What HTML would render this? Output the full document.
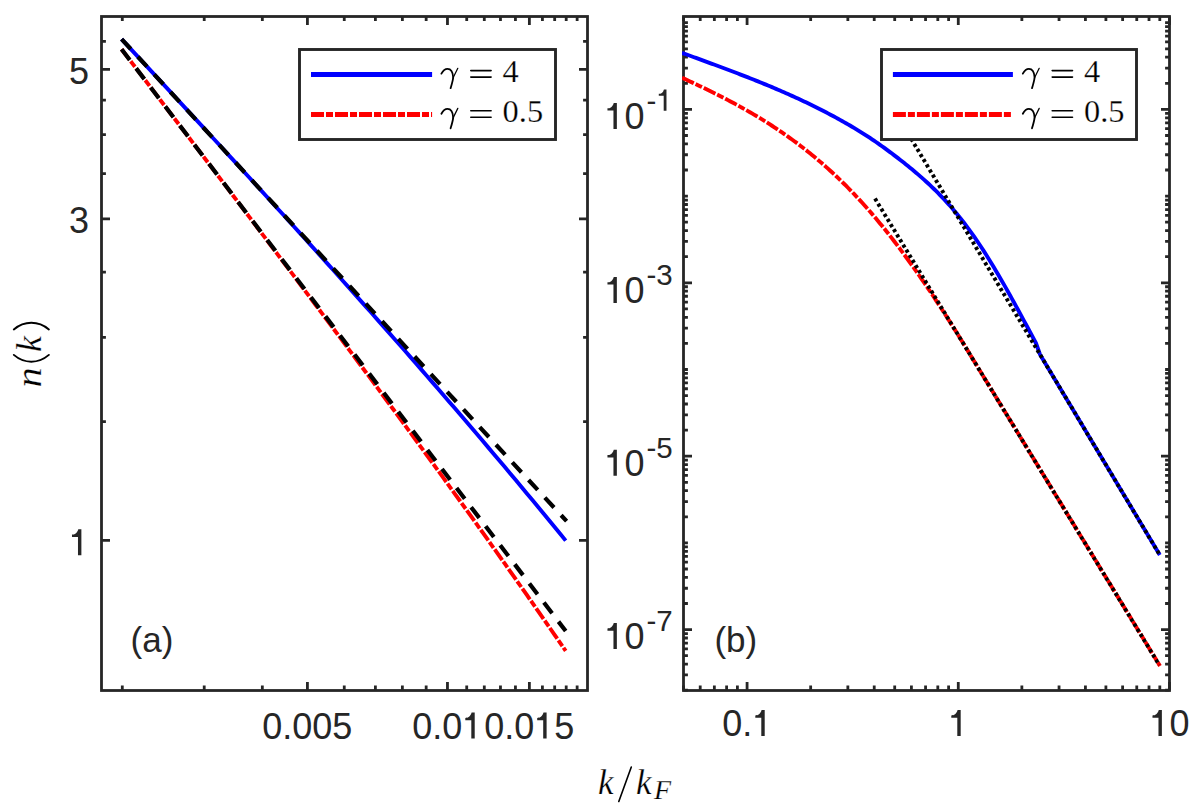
<!DOCTYPE html><html><head><meta charset="utf-8"><style>html,body{margin:0;padding:0;background:#fff;width:1197px;height:811px;overflow:hidden}svg{display:block}.t{font-family:"Liberation Sans",sans-serif;font-size:36px;fill:#262626}.m{font-family:"Liberation Serif",serif;fill:#000;stroke:#fff;stroke-width:0.25px}</style></head><body>
<svg width="1197" height="811" viewBox="0 0 1197 811">
<rect width="1197" height="811" fill="#fff"/>
<defs><clipPath id="cl"><rect x="101.5" y="16.5" width="486" height="674"/></clipPath><clipPath id="cr"><rect x="682" y="15" width="489" height="677"/></clipPath></defs>
<path d="M307.42 690.5V682M307.42 16.5V25M447.46 690.5V682M447.46 16.5V25M529.38 690.5V682M529.38 16.5V25M122.3 690.5V685.4M122.3 16.5V20.9M204.22 690.5V685.4M204.22 16.5V20.9M262.34 690.5V685.4M262.34 16.5V20.9M344.26 690.5V685.4M344.26 16.5V20.9M375.4 690.5V685.4M375.4 16.5V20.9M402.38 690.5V685.4M402.38 16.5V20.9M426.17 690.5V685.4M426.17 16.5V20.9M466.72 690.5V685.4M466.72 16.5V20.9M484.3 690.5V685.4M484.3 16.5V20.9M500.47 690.5V685.4M500.47 16.5V20.9M515.44 690.5V685.4M515.44 16.5V20.9M542.42 690.5V685.4M542.42 16.5V20.9M554.67 690.5V685.4M554.67 16.5V20.9M566.21 690.5V685.4M566.21 16.5V20.9M577.14 690.5V685.4M577.14 16.5V20.9M101.5 540.3H110M587.5 540.3H579M101.5 218.79H110M587.5 218.79H579M101.5 69.3H110M587.5 69.3H579M101.5 421.64H105.9M587.5 421.64H583.1M101.5 337.45H105.9M587.5 337.45H583.1M101.5 272.15H105.9M587.5 272.15H583.1M101.5 173.68H105.9M587.5 173.68H583.1M101.5 134.6H105.9M587.5 134.6H583.1M101.5 100.13H105.9M587.5 100.13H583.1M101.5 41.41H105.9M587.5 41.41H583.1" stroke="#262626" stroke-width="2.8" fill="none"/>
<rect x="101.5" y="16.5" width="486" height="674" fill="none" stroke="#262626" stroke-width="2.8"/>
<g clip-path="url(#cl)" fill="none" stroke-linejoin="round">
<path d="M121.6 39.1 L127.15 45.1 L132.7 51.09 L138.25 57.09 L143.81 63.09 L149.36 69.09 L154.91 75.09 L160.46 81.09 L166.01 87.09 L171.56 93.1 L177.11 99.11 L182.66 105.12 L188.22 111.13 L193.77 117.15 L199.32 123.17 L204.87 129.19 L210.42 135.22 L215.97 141.25 L221.52 147.29 L227.07 153.33 L232.62 159.37 L238.18 165.42 L243.73 171.48 L249.28 177.54 L254.83 183.61 L260.38 189.68 L265.93 195.76 L271.48 201.85 L277.03 207.94 L282.59 214.04 L288.14 220.15 L293.69 226.26 L299.24 232.39 L304.79 238.52 L310.34 244.66 L315.89 250.81 L321.44 256.96 L327 263.13 L332.55 269.31 L338.1 275.49 L343.65 281.69 L349.2 287.9 L354.75 294.11 L360.3 300.34 L365.86 306.58 L371.41 312.83 L376.96 319.09 L382.51 325.36 L388.06 331.65 L393.61 337.94 L399.16 344.25 L404.71 350.58 L410.26 356.91 L415.82 363.26 L421.37 369.62 L426.92 376 L432.47 382.39 L438.02 388.79 L443.57 395.21 L449.12 401.65 L454.67 408.1 L460.23 414.56 L465.78 421.04 L471.33 427.54 L476.88 434.05 L482.43 440.58 L487.98 447.12 L493.53 453.68 L499.09 460.26 L504.64 466.86 L510.19 473.47 L515.74 480.1 L521.29 486.75 L526.84 493.42 L532.39 500.11 L537.94 506.81 L543.5 513.54 L549.05 520.28 L554.6 527.05 L560.15 533.83 L565.7 540.64" stroke="#0000ff" stroke-width="3.9"/>
<path d="M121.6 49.3 L127.15 56.57 L132.7 63.85 L138.25 71.12 L143.81 78.39 L149.36 85.67 L154.91 92.94 L160.46 100.22 L166.01 107.49 L171.56 114.77 L177.11 122.05 L182.66 129.33 L188.22 136.62 L193.77 143.9 L199.32 151.19 L204.87 158.48 L210.42 165.77 L215.97 173.07 L221.52 180.37 L227.07 187.68 L232.62 194.98 L238.18 202.3 L243.73 209.61 L249.28 216.93 L254.83 224.26 L260.38 231.59 L265.93 238.93 L271.48 246.27 L277.03 253.62 L282.59 260.97 L288.14 268.33 L293.69 275.7 L299.24 283.08 L304.79 290.46 L310.34 297.85 L315.89 305.24 L321.44 312.65 L327 320.06 L332.55 327.48 L338.1 334.92 L343.65 342.36 L349.2 349.81 L354.75 357.27 L360.3 364.74 L365.86 372.22 L371.41 379.71 L376.96 387.21 L382.51 394.72 L388.06 402.24 L393.61 409.78 L399.16 417.33 L404.71 424.89 L410.26 432.46 L415.82 440.05 L421.37 447.65 L426.92 455.26 L432.47 462.89 L438.02 470.53 L443.57 478.19 L449.12 485.86 L454.67 493.54 L460.23 501.24 L465.78 508.96 L471.33 516.69 L476.88 524.44 L482.43 532.21 L487.98 539.99 L493.53 547.79 L499.09 555.61 L504.64 563.45 L510.19 571.3 L515.74 579.17 L521.29 587.06 L526.84 594.97 L532.39 602.91 L537.94 610.86 L543.5 618.83 L549.05 626.82 L554.6 634.83 L560.15 642.86 L565.7 650.92" stroke="#ff0000" stroke-width="3.9" stroke-dasharray="13 2 7 2"/>
<path d="M121.6 39.1 L566.6 521.2" stroke="#000" stroke-width="4.2" stroke-dasharray="13.5 10.5"/>
<path d="M121.6 49.3 L565.7 631.1" stroke="#000" stroke-width="4.2" stroke-dasharray="13.5 10.5"/>
</g>
<path d="M747.08 690.5V682M747.08 16.5V25M958.28 690.5V682M958.28 16.5V25M1169.48 690.5V682M1169.48 16.5V25M683.5 690.5V685.4M683.5 16.5V20.9M700.22 690.5V685.4M700.22 16.5V20.9M714.36 690.5V685.4M714.36 16.5V20.9M726.61 690.5V685.4M726.61 16.5V20.9M737.41 690.5V685.4M737.41 16.5V20.9M810.66 690.5V685.4M810.66 16.5V20.9M847.85 690.5V685.4M847.85 16.5V20.9M874.23 690.5V685.4M874.23 16.5V20.9M894.7 690.5V685.4M894.7 16.5V20.9M911.42 690.5V685.4M911.42 16.5V20.9M925.56 690.5V685.4M925.56 16.5V20.9M937.81 690.5V685.4M937.81 16.5V20.9M948.61 690.5V685.4M948.61 16.5V20.9M1021.86 690.5V685.4M1021.86 16.5V20.9M1059.05 690.5V685.4M1059.05 16.5V20.9M1085.43 690.5V685.4M1085.43 16.5V20.9M1105.9 690.5V685.4M1105.9 16.5V20.9M1122.62 690.5V685.4M1122.62 16.5V20.9M1136.76 690.5V685.4M1136.76 16.5V20.9M1149.01 690.5V685.4M1149.01 16.5V20.9M1159.81 690.5V685.4M1159.81 16.5V20.9M683.5 109.4H692M1169.5 109.4H1161M683.5 282.8H692M1169.5 282.8H1161M683.5 456.2H692M1169.5 456.2H1161M683.5 629.6H692M1169.5 629.6H1161M683.5 690.2H687.9M1169.5 690.2H1165.1M683.5 674.93H687.9M1169.5 674.93H1165.1M683.5 664.1H687.9M1169.5 664.1H1165.1M683.5 655.7H687.9M1169.5 655.7H1165.1M683.5 648.83H687.9M1169.5 648.83H1165.1M683.5 643.03H687.9M1169.5 643.03H1165.1M683.5 638H687.9M1169.5 638H1165.1M683.5 633.57H687.9M1169.5 633.57H1165.1M683.5 603.5H687.9M1169.5 603.5H1165.1M683.5 588.23H687.9M1169.5 588.23H1165.1M683.5 577.4H687.9M1169.5 577.4H1165.1M683.5 569H687.9M1169.5 569H1165.1M683.5 562.13H687.9M1169.5 562.13H1165.1M683.5 556.33H687.9M1169.5 556.33H1165.1M683.5 551.3H687.9M1169.5 551.3H1165.1M683.5 546.87H687.9M1169.5 546.87H1165.1M683.5 542.9H687.9M1169.5 542.9H1165.1M683.5 516.8H687.9M1169.5 516.8H1165.1M683.5 501.53H687.9M1169.5 501.53H1165.1M683.5 490.7H687.9M1169.5 490.7H1165.1M683.5 482.3H687.9M1169.5 482.3H1165.1M683.5 475.43H687.9M1169.5 475.43H1165.1M683.5 469.63H687.9M1169.5 469.63H1165.1M683.5 464.6H687.9M1169.5 464.6H1165.1M683.5 460.17H687.9M1169.5 460.17H1165.1M683.5 430.1H687.9M1169.5 430.1H1165.1M683.5 414.83H687.9M1169.5 414.83H1165.1M683.5 404H687.9M1169.5 404H1165.1M683.5 395.6H687.9M1169.5 395.6H1165.1M683.5 388.73H687.9M1169.5 388.73H1165.1M683.5 382.93H687.9M1169.5 382.93H1165.1M683.5 377.9H687.9M1169.5 377.9H1165.1M683.5 373.47H687.9M1169.5 373.47H1165.1M683.5 369.5H687.9M1169.5 369.5H1165.1M683.5 343.4H687.9M1169.5 343.4H1165.1M683.5 328.13H687.9M1169.5 328.13H1165.1M683.5 317.3H687.9M1169.5 317.3H1165.1M683.5 308.9H687.9M1169.5 308.9H1165.1M683.5 302.03H687.9M1169.5 302.03H1165.1M683.5 296.23H687.9M1169.5 296.23H1165.1M683.5 291.2H687.9M1169.5 291.2H1165.1M683.5 286.77H687.9M1169.5 286.77H1165.1M683.5 256.7H687.9M1169.5 256.7H1165.1M683.5 241.43H687.9M1169.5 241.43H1165.1M683.5 230.6H687.9M1169.5 230.6H1165.1M683.5 222.2H687.9M1169.5 222.2H1165.1M683.5 215.33H687.9M1169.5 215.33H1165.1M683.5 209.53H687.9M1169.5 209.53H1165.1M683.5 204.5H687.9M1169.5 204.5H1165.1M683.5 200.07H687.9M1169.5 200.07H1165.1M683.5 196.1H687.9M1169.5 196.1H1165.1M683.5 170H687.9M1169.5 170H1165.1M683.5 154.73H687.9M1169.5 154.73H1165.1M683.5 143.9H687.9M1169.5 143.9H1165.1M683.5 135.5H687.9M1169.5 135.5H1165.1M683.5 128.63H687.9M1169.5 128.63H1165.1M683.5 122.83H687.9M1169.5 122.83H1165.1M683.5 117.8H687.9M1169.5 117.8H1165.1M683.5 113.37H687.9M1169.5 113.37H1165.1M683.5 83.3H687.9M1169.5 83.3H1165.1M683.5 68.03H687.9M1169.5 68.03H1165.1M683.5 57.2H687.9M1169.5 57.2H1165.1M683.5 48.8H687.9M1169.5 48.8H1165.1M683.5 41.93H687.9M1169.5 41.93H1165.1M683.5 36.13H687.9M1169.5 36.13H1165.1M683.5 31.1H687.9M1169.5 31.1H1165.1M683.5 26.67H687.9M1169.5 26.67H1165.1M683.5 22.7H687.9M1169.5 22.7H1165.1" stroke="#262626" stroke-width="2.8" fill="none"/>
<rect x="683.5" y="16.5" width="486" height="674" fill="none" stroke="#262626" stroke-width="2.8"/>
<g clip-path="url(#cr)" fill="none" stroke-linejoin="round">
<path d="M682 52.82 L684 53.55 L686 54.28 L688 55.02 L690 55.75 L692 56.48 L694 57.21 L696 57.94 L698 58.67 L700 59.4 L702 60.13 L704 60.87 L706 61.6 L708 62.33 L710 63.07 L712 63.8 L714 64.54 L716 65.28 L718 66.02 L720 66.76 L722 67.51 L724 68.25 L726 69 L728 69.75 L730 70.51 L732 71.26 L734 72.02 L736 72.78 L738 73.55 L740 74.32 L742 75.09 L744 75.86 L746 76.64 L748 77.42 L750 78.21 L752 79 L754 79.79 L756 80.59 L758 81.39 L760 82.2 L762 83.01 L764 83.83 L766 84.65 L768 85.47 L770 86.31 L772 87.14 L774 87.99 L776 88.83 L778 89.69 L780 90.55 L782 91.42 L784 92.29 L786 93.17 L788 94.05 L790 94.95 L792 95.85 L794 96.75 L796 97.66 L798 98.58 L800 99.51 L802 100.45 L804 101.39 L806 102.34 L808 103.3 L810 104.27 L812 105.24 L814 106.23 L816 107.22 L818 108.22 L820 109.23 L822 110.25 L824 111.27 L826 112.31 L828 113.36 L830 114.41 L832 115.48 L834 116.55 L836 117.64 L838 118.73 L840 119.84 L842 120.95 L844 122.08 L846 123.22 L848 124.37 L850 125.53 L852 126.7 L854 127.89 L856 129.09 L858 130.31 L860 131.54 L862 132.79 L864 134.06 L866 135.34 L868 136.64 L870 137.95 L872 139.29 L874 140.64 L876 142.01 L878 143.4 L880 144.8 L882 146.22 L884 147.66 L886 149.11 L888 150.58 L890 152.07 L892 153.56 L894 155.07 L896 156.6 L898 158.14 L900 159.69 L902 161.26 L904 162.83 L906 164.43 L908 166.04 L910 167.66 L912 169.31 L914 170.98 L916 172.66 L918 174.38 L920 176.11 L922 177.87 L924 179.65 L926 181.47 L928 183.31 L930 185.18 L932 187.08 L934 189.01 L936 190.98 L938 192.99 L940 195.02 L942 197.1 L944 199.22 L946 201.37 L948 203.57 L950 205.8 L952 208.09 L954 210.41 L956 212.78 L958 215.2 L960 217.67 L962 220.19 L964 222.76 L966 225.38 L968 228.05 L970 230.78 L972 233.57 L974 236.41 L976 239.3 L978 242.25 L980 245.25 L982 248.3 L984 251.4 L986 254.54 L988 257.73 L990 260.96 L992 264.23 L994 267.54 L996 270.89 L998 274.28 L1000 277.7 L1002 281.15 L1004 284.63 L1006 288.15 L1008 291.69 L1010 295.26 L1012 298.85 L1014 302.46 L1016 306.1 L1018 309.75 L1020 313.43 L1022 317.11 L1024 320.82 L1026 324.53 L1028 328.26 L1030 332 L1032 335.74 L1034 339.49 L1036 343.24 L1040 354.45 L1159.8 555" stroke="#0000ff" stroke-width="3.9"/>
<path d="M682 77.72 L684 78.64 L686 79.57 L688 80.5 L690 81.43 L692 82.37 L694 83.31 L696 84.25 L698 85.2 L700 86.16 L702 87.11 L704 88.08 L706 89.05 L708 90.02 L710 91 L712 91.99 L714 92.98 L716 93.98 L718 94.99 L720 96 L722 97.02 L724 98.05 L726 99.09 L728 100.14 L730 101.19 L732 102.25 L734 103.32 L736 104.41 L738 105.5 L740 106.6 L742 107.71 L744 108.83 L746 109.96 L748 111.1 L750 112.25 L752 113.42 L754 114.59 L756 115.78 L758 116.98 L760 118.2 L762 119.42 L764 120.66 L766 121.91 L768 123.17 L770 124.45 L772 125.75 L774 127.05 L776 128.37 L778 129.71 L780 131.06 L782 132.42 L784 133.81 L786 135.2 L788 136.62 L790 138.05 L792 139.49 L794 140.95 L796 142.43 L798 143.93 L800 145.45 L802 146.98 L804 148.53 L806 150.1 L808 151.69 L810 153.29 L812 154.92 L814 156.56 L816 158.23 L818 159.91 L820 161.62 L822 163.34 L824 165.09 L826 166.86 L828 168.64 L830 170.45 L832 172.29 L834 174.14 L836 176.01 L838 177.91 L840 179.83 L842 181.78 L844 183.74 L846 185.73 L848 187.75 L850 189.79 L852 191.85 L854 193.94 L856 196.05 L858 198.19 L860 200.35 L862 202.54 L864 204.75 L866 206.99 L868 209.26 L870 211.55 L872 213.87 L874 216.21 L876 218.58 L878 220.98 L880 223.39 L882 225.84 L884 228.3 L886 230.8 L888 233.31 L890 235.85 L892 238.41 L894 241 L896 243.61 L898 246.24 L900 248.89 L902 251.57 L904 254.27 L906 256.99 L908 259.73 L910 262.5 L912 265.28 L914 268.09 L916 270.92 L918 273.77 L920 276.64 L922 279.53 L924 282.44 L926 285.37 L928 288.32 L930 291.28 L932 294.27 L934 297.28 L936 300.31 L938 303.35 L940 306.42 L942 309.5 L944 312.6 L946 315.72 L948 318.85 L950 322 L952 325.17 L954 328.36 L956 331.56 L958 334.78 L960 338.02 L962 341.27 L964 344.54 L966 347.83 L968 351.13 L1160 666" stroke="#ff0000" stroke-width="3.9" stroke-dasharray="13 2 7 2"/>
<path d="M905 128.46 L1159.4 554.4" stroke="#000" stroke-width="3.9" stroke-dasharray="3.2 2.8"/>
<path d="M875 198.6 L1159.2 664.9" stroke="#000" stroke-width="3.9" stroke-dasharray="3.2 2.8"/>
</g>
<rect x="299.5" y="49.5" width="256" height="90" fill="#fff" stroke="#262626" stroke-width="2.9"/><path d="M311 74.5H432.1" stroke="#0000ff" stroke-width="5"/><path d="M311 114.5H432.1" stroke="#ff0000" stroke-width="5" stroke-dasharray="13 2 7 2"/>
<rect x="881.5" y="49.5" width="255" height="90" fill="#fff" stroke="#262626" stroke-width="2.9"/><path d="M892.9 74.5H1012.9" stroke="#0000ff" stroke-width="5"/><path d="M892.9 114.5H1012.9" stroke="#ff0000" stroke-width="5" stroke-dasharray="13 2 7 2"/>
<text x="68.98" y="84" class="t">5</text><text x="68.98" y="233.3" class="t">3</text><text x="68.98" y="555.2" class="t">&#8199;</text><path transform="translate(81.18 555.2) scale(1.0000)" d="M0.2 0H-3.2V-18.3H-9.2V-20.6C-6.4 -20.6 -4.1 -21.8 -2.9 -26H0.2Z" fill="#262626"/><text x="262.26" y="738.5" class="t">0.005</text><text x="412.27" y="738.5" class="t">0.0&#8199;</text><path transform="translate(474.51 738.5) scale(1.0000)" d="M0.2 0H-3.2V-18.3H-9.2V-20.6C-6.4 -20.6 -4.1 -21.8 -2.9 -26H0.2Z" fill="#262626"/><text x="484.16" y="738.5" class="t">0.0&#8199;5</text><path transform="translate(546.4 738.5) scale(1.0000)" d="M0.2 0H-3.2V-18.3H-9.2V-20.6C-6.4 -20.6 -4.1 -21.8 -2.9 -26H0.2Z" fill="#262626"/><text x="722.28" y="736" class="t">0.&#8199;</text><path transform="translate(764.5 736) scale(1.0000)" d="M0.2 0H-3.2V-18.3H-9.2V-20.6C-6.4 -20.6 -4.1 -21.8 -2.9 -26H0.2Z" fill="#262626"/><text x="948.29" y="736" class="t">&#8199;</text><path transform="translate(960.49 736) scale(1.0000)" d="M0.2 0H-3.2V-18.3H-9.2V-20.6C-6.4 -20.6 -4.1 -21.8 -2.9 -26H0.2Z" fill="#262626"/><text x="1149.48" y="736" class="t">&#8199;0</text><path transform="translate(1161.68 736) scale(1.0000)" d="M0.2 0H-3.2V-18.3H-9.2V-20.6C-6.4 -20.6 -4.1 -21.8 -2.9 -26H0.2Z" fill="#262626"/><text x="604.46" y="128.9" class="t">&#8199;0</text><path transform="translate(616.66 128.9) scale(1.0000)" d="M0.2 0H-3.2V-18.3H-9.2V-20.6C-6.4 -20.6 -4.1 -21.8 -2.9 -26H0.2Z" fill="#262626"/><text x="646.5" y="110.7" class="t" style="font-size:29.5px">-&#8199;</text><path transform="translate(666.32 110.7) scale(0.8194)" d="M0.2 0H-3.2V-18.3H-9.2V-20.6C-6.4 -20.6 -4.1 -21.8 -2.9 -26H0.2Z" fill="#262626"/><text x="604.46" y="302.9" class="t">&#8199;0</text><path transform="translate(616.66 302.9) scale(1.0000)" d="M0.2 0H-3.2V-18.3H-9.2V-20.6C-6.4 -20.6 -4.1 -21.8 -2.9 -26H0.2Z" fill="#262626"/><text x="646.5" y="284.7" class="t" style="font-size:29.5px">-3</text><text x="604.46" y="475.7" class="t">&#8199;0</text><path transform="translate(616.66 475.7) scale(1.0000)" d="M0.2 0H-3.2V-18.3H-9.2V-20.6C-6.4 -20.6 -4.1 -21.8 -2.9 -26H0.2Z" fill="#262626"/><text x="646.5" y="457.5" class="t" style="font-size:29.5px">-5</text><text x="604.46" y="649" class="t">&#8199;0</text><path transform="translate(616.66 649) scale(1.0000)" d="M0.2 0H-3.2V-18.3H-9.2V-20.6C-6.4 -20.6 -4.1 -21.8 -2.9 -26H0.2Z" fill="#262626"/><text x="646.5" y="630.8" class="t" style="font-size:29.5px">-7</text><text x="130.6" y="652.3" class="t" text-anchor="start" style="font-size:35px" >(a)</text><text x="714.4" y="652.3" class="t" text-anchor="start" style="font-size:35px" >(b)</text><text x="598" y="794" class="m" style="font-size:35px;font-style:italic">k</text><path d="M618.8 801.5L631.3 767" stroke="#000" stroke-width="1.6" stroke-linecap="round"/><text x="636" y="794" class="m" style="font-size:35px;font-style:italic">k</text><text x="654" y="799" class="m" style="font-size:28px;font-style:italic">F</text><g transform="translate(40.8 354.3) rotate(-90)"><text transform="translate(-33.2 0) scale(1.12 1)" class="m" style="font-size:36px;font-style:italic">n</text><text transform="translate(2.2 0)" class="m" style="font-size:36px;font-style:italic">k</text><path d="M-0.6 -27C-9.7 -16.4 -9.7 -2.5 -0.6 8.1M24.8 -27C33.7 -16.4 33.7 -2.5 24.8 8.1" fill="none" stroke="#000" stroke-width="1.9" stroke-linecap="round"/></g><g transform="translate(440.5 82.2)" fill="none" stroke="#000" stroke-linecap="round"><path d="M0.9 -8.6C2.6 -11.7 4.4 -13.4 7 -13.4C10.6 -13.4 12.4 -10.5 12.7 -4.7C12.3 -1 11 3 10.1 6" stroke-width="1.8"/><path d="M12.5 -4.2L17.3 -13.9" stroke-width="1.25"/></g><path d="M470.8 70.6H491.1M470.8 77.1H491.1" stroke="#000" stroke-width="1.6" stroke-linecap="round"/><text x="502.6" y="82.2" class="m" style="font-size:32.4px">4</text><g transform="translate(440.5 122.3)" fill="none" stroke="#000" stroke-linecap="round"><path d="M0.9 -8.6C2.6 -11.7 4.4 -13.4 7 -13.4C10.6 -13.4 12.4 -10.5 12.7 -4.7C12.3 -1 11 3 10.1 6" stroke-width="1.8"/><path d="M12.5 -4.2L17.3 -13.9" stroke-width="1.25"/></g><path d="M470.8 110.7H491.1M470.8 117.2H491.1" stroke="#000" stroke-width="1.6" stroke-linecap="round"/><text x="502.6" y="122.3" class="m" style="font-size:32.4px">0.5</text><g transform="translate(1021.9 82.2)" fill="none" stroke="#000" stroke-linecap="round"><path d="M0.9 -8.6C2.6 -11.7 4.4 -13.4 7 -13.4C10.6 -13.4 12.4 -10.5 12.7 -4.7C12.3 -1 11 3 10.1 6" stroke-width="1.8"/><path d="M12.5 -4.2L17.3 -13.9" stroke-width="1.25"/></g><path d="M1052.2 70.6H1072.5M1052.2 77.1H1072.5" stroke="#000" stroke-width="1.6" stroke-linecap="round"/><text x="1084" y="82.2" class="m" style="font-size:32.4px">4</text><g transform="translate(1021.9 122.3)" fill="none" stroke="#000" stroke-linecap="round"><path d="M0.9 -8.6C2.6 -11.7 4.4 -13.4 7 -13.4C10.6 -13.4 12.4 -10.5 12.7 -4.7C12.3 -1 11 3 10.1 6" stroke-width="1.8"/><path d="M12.5 -4.2L17.3 -13.9" stroke-width="1.25"/></g><path d="M1052.2 110.7H1072.5M1052.2 117.2H1072.5" stroke="#000" stroke-width="1.6" stroke-linecap="round"/><text x="1084" y="122.3" class="m" style="font-size:32.4px">0.5</text>
</svg></body></html>
